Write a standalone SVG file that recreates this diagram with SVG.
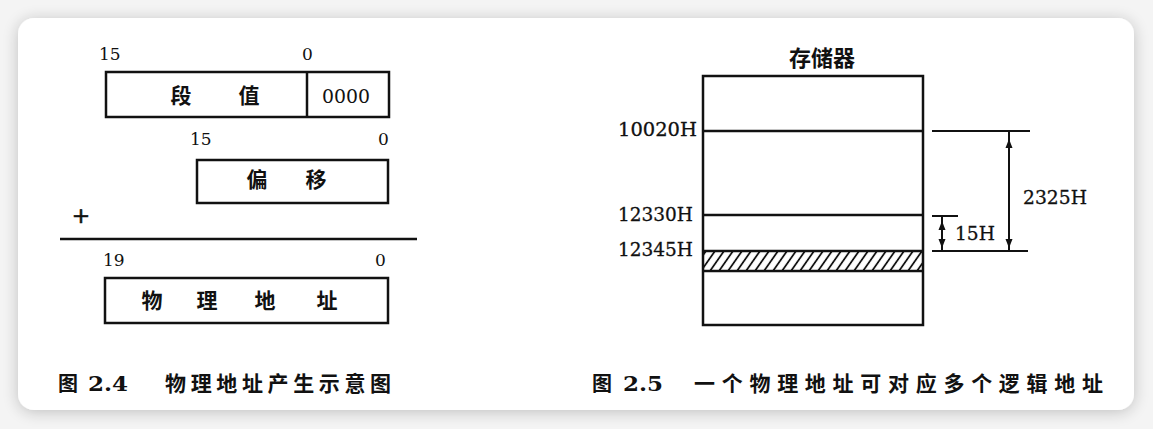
<svg xmlns="http://www.w3.org/2000/svg" width="1153" height="429" viewBox="0 0 1153 429">
  <style>
    .frame { fill: none; stroke: #111; stroke-width: 2.5; }
    .rule { stroke: #111; stroke-width: 2.5; fill: none; }
    .dim { stroke: #111; stroke-width: 2; fill: none; }
    .cjk { font-family: "Noto Sans CJK SC", "Noto Sans", sans-serif; font-weight: bold; fill: #111; }
    .bit { font-family: "DejaVu Serif", "Liberation Serif", serif; font-size: 17px; fill: #111; }
    .addr { font-family: "DejaVu Serif", "Liberation Serif", serif; font-size: 19px; fill: #111; stroke: #111; stroke-width: 0.3; }
    .num { font-family: "DejaVu Serif", "Liberation Serif", serif; font-size: 20px; font-weight: bold; fill: #111; }
  </style>
  <defs>
    <filter id="shadow" x="-5%" y="-10%" width="110%" height="120%">
      <feGaussianBlur in="SourceAlpha" stdDeviation="8"/>
      <feOffset dx="0" dy="2" result="blur"/>
      <feComponentTransfer><feFuncA type="linear" slope="0.22"/></feComponentTransfer>
      <feMerge><feMergeNode/><feMergeNode in="SourceGraphic"/></feMerge>
    </filter>
    <pattern id="hatch" width="9" height="22" patternUnits="userSpaceOnUse" patternTransform="translate(703 251) skewX(-35)">
      <line x1="3" y1="0" x2="3" y2="22" stroke="#111" stroke-width="2.2"/>
    </pattern>
    <path id="headUp" d="M0,0 L-3.5,9 L3.5,9 Z" fill="#111"/>
    <path id="headDown" d="M0,0 L-3.5,-9 L3.5,-9 Z" fill="#111"/>
  </defs>

  <!-- page background and card -->
  <rect x="0" y="0" width="1153" height="429" fill="#f4f4f4"/>
  <rect x="18" y="18" width="1116" height="392" rx="16" ry="16" fill="#ffffff" filter="url(#shadow)"/>

  <!-- ===== Figure 2.4: physical address formation ===== -->
  <g id="segment-register">
    <text class="bit" x="99" y="60">15</text>
    <text class="bit" x="302" y="60">0</text>
    <rect class="frame" x="106" y="72" width="283" height="45"/>
    <line class="rule" x1="307" y1="72" x2="307" y2="117"/>
    <text class="cjk" x="181" y="103" font-size="21" text-anchor="middle">段</text>
    <text class="cjk" x="249" y="103" font-size="21" text-anchor="middle">值</text>
    <text class="bit" x="322" y="103" textLength="48" lengthAdjust="spacingAndGlyphs" style="font-size:18px">0000</text>
  </g>

  <g id="offset-register">
    <text class="bit" x="190" y="145">15</text>
    <text class="bit" x="378" y="145">0</text>
    <rect class="frame" x="197" y="160" width="191" height="43"/>
    <text class="cjk" x="257" y="187" font-size="21" text-anchor="middle">偏</text>
    <text class="cjk" x="316" y="187" font-size="21" text-anchor="middle">移</text>
  </g>

  <g id="adder">
    <text x="81" y="223" font-family="DejaVu Sans, sans-serif" font-size="22" text-anchor="middle" fill="#111" stroke="#111" stroke-width="0.6">+</text>
    <line class="rule" x1="60" y1="239" x2="417" y2="239"/>
  </g>

  <g id="physical-address">
    <text class="bit" x="103" y="266">19</text>
    <text class="bit" x="375" y="266">0</text>
    <rect class="frame" x="105" y="278" width="283" height="45"/>
    <text class="cjk" x="152" y="308" font-size="21" text-anchor="middle">物</text>
    <text class="cjk" x="207" y="308" font-size="21" text-anchor="middle">理</text>
    <text class="cjk" x="265" y="308" font-size="21" text-anchor="middle">地</text>
    <text class="cjk" x="327" y="308" font-size="21" text-anchor="middle">址</text>
  </g>

  <g id="caption-2-4">
    <text class="cjk" x="58" y="391" font-size="20">图</text>
    <text class="num" x="88" y="391" textLength="40" lengthAdjust="spacingAndGlyphs">2.4</text>
    <text class="cjk" x="165" y="391" font-size="21" textLength="226" lengthAdjust="spacing">物理地址产生示意图</text>
  </g>

  <!-- ===== Figure 2.5: memory map ===== -->
  <g id="memory">
    <text class="cjk" x="822" y="66" font-size="22" text-anchor="middle">存储器</text>
    <rect class="frame" x="703" y="76" width="220" height="249"/>
    <line class="rule" x1="703" y1="131" x2="923" y2="131"/>
    <line class="rule" x1="703" y1="215" x2="923" y2="215"/>
    <rect x="703" y="251" width="220" height="20" fill="url(#hatch)"/>
    <line class="rule" x1="703" y1="251" x2="923" y2="251"/>
    <line class="rule" x1="703" y1="271" x2="923" y2="271"/>
  </g>

  <g id="address-labels">
    <text class="addr" x="618" y="136" textLength="79" lengthAdjust="spacingAndGlyphs">10020H</text>
    <text class="addr" x="618" y="221" textLength="75" lengthAdjust="spacingAndGlyphs">12330H</text>
    <text class="addr" x="618" y="256" textLength="75" lengthAdjust="spacingAndGlyphs">12345H</text>
  </g>

  <!-- dimension lines and arrows -->
  <g id="connectors">
    <line class="dim" x1="932" y1="131" x2="1030" y2="131"/>
    <line class="dim" x1="932" y1="216" x2="958" y2="216"/>
    <line class="dim" x1="932" y1="251" x2="1028" y2="251"/>
    <line class="dim" x1="1009" y1="131" x2="1009" y2="251"/>
    <use href="#headUp" x="1009" y="139"/>
    <use href="#headDown" x="1009" y="248"/>
    <line class="dim" x1="942" y1="216" x2="942" y2="251"/>
    <use href="#headUp" x="942" y="221"/>
    <use href="#headDown" x="942" y="248"/>
  </g>

  <g id="distance-labels">
    <text class="addr" x="1023" y="204" textLength="64" lengthAdjust="spacingAndGlyphs">2325H</text>
    <text class="addr" x="955" y="240" textLength="40" lengthAdjust="spacingAndGlyphs">15H</text>
  </g>

  <g id="caption-2-5">
    <text class="cjk" x="592" y="391" font-size="20">图</text>
    <text class="num" x="623" y="391" textLength="40" lengthAdjust="spacingAndGlyphs">2.5</text>
    <text class="cjk" x="694" y="391" font-size="21" textLength="409" lengthAdjust="spacing">一个物理地址可对应多个逻辑地址</text>
  </g>
</svg>
